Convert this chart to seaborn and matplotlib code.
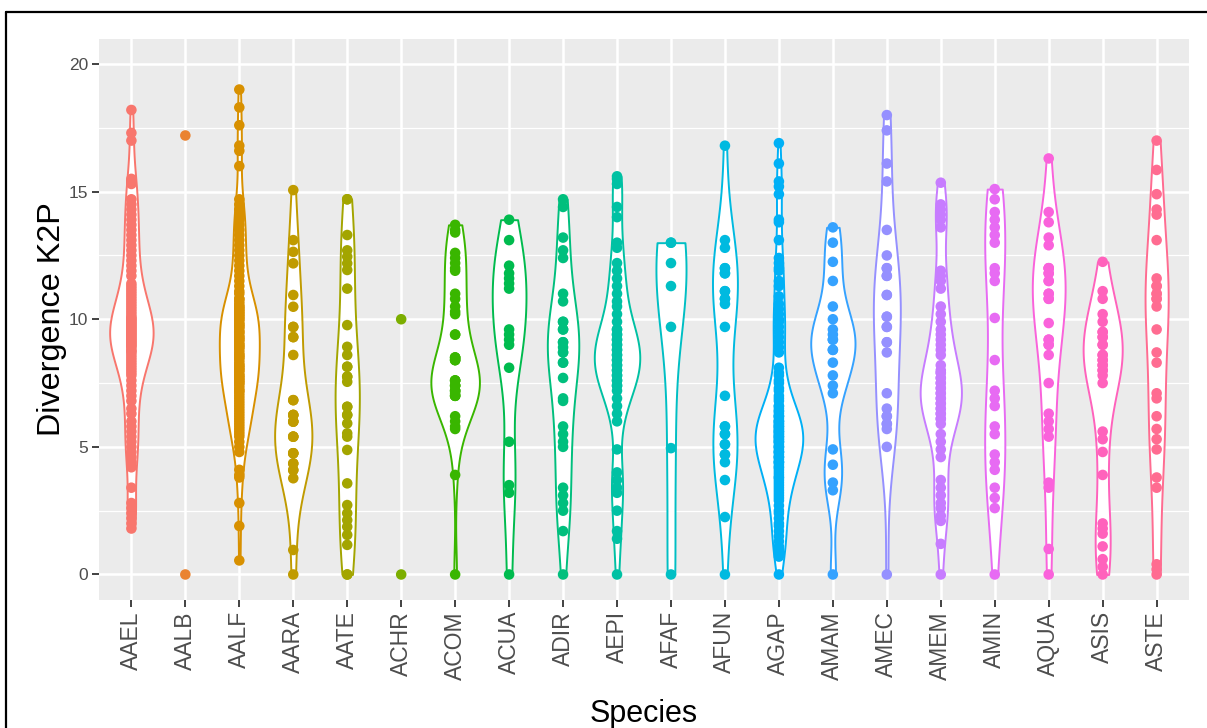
import matplotlib
matplotlib.use("Agg")
import matplotlib.pyplot as plt
from matplotlib.lines import Line2D
from matplotlib.ticker import MultipleLocator
import seaborn as sns
import numpy as np
import pandas as pd

# K2P divergence values per species
species = ["AAEL", "AALB", "AALF", "AARA", "AATE", "ACHR", "ACOM", "ACUA", "ADIR", "AEPI",
           "AFAF", "AFUN", "AGAP", "AMAM", "AMEC", "AMEM", "AMIN", "AQUA", "ASIS", "ASTE"]

aael = [18.2, 17.3, 17.0, 15.5, 15.4, 15.4, 15.3,
        14.7, 14.5, 14.3, 14.1, 13.9, 13.7, 13.5, 13.3, 13.1, 12.9, 12.7, 12.5, 12.3, 12.1,
        11.9, 11.7,
        11.4, 11.3, 11.2, 11.1, 11.0, 10.9, 10.8, 10.7, 10.6, 10.5, 10.4, 10.3, 10.2, 10.1,
        10.05, 10.0, 9.95, 9.9, 9.85, 9.8, 9.75, 9.7, 9.65, 9.6, 9.55, 9.5, 9.45, 9.4, 9.35,
        9.3, 9.25, 9.2, 9.15, 9.1, 9.05, 9.0, 8.95, 8.9, 8.8, 8.75, 8.7, 8.6, 8.5, 8.4, 8.3,
        8.2, 8.1, 8.0, 7.9, 7.8,
        7.6, 7.4, 7.2, 7.0, 6.8, 6.5, 6.3, 6.0, 5.8, 5.6, 5.4, 5.2, 5.0, 4.8, 4.6, 4.4, 4.2,
        3.4, 2.8, 2.6, 2.4, 2.2, 2.0, 1.8]
aalb = [17.2, 0.0]
aalf = [19.0, 18.3, 17.6, 16.8, 16.6, 16.0, 14.7, 14.5, 14.3, 14.1, 13.9, 13.7, 13.5, 13.3,
        13.1, 12.9, 12.7, 12.5, 12.3, 12.1, 11.9, 11.7, 11.5, 11.3, 11.1, 11.0, 10.8, 10.8,
        10.7, 10.6, 10.5, 10.5, 10.4, 10.4, 10.3, 10.3, 10.2, 10.2, 10.1, 10.1, 10.0, 10.0,
        9.9, 9.8, 9.8, 9.7, 9.7, 9.6, 9.5, 9.5, 9.4, 9.3, 9.3, 9.2, 9.2, 9.1, 9.0, 9.0, 8.9,
        8.9, 8.8, 8.7, 8.6, 8.6, 8.5, 8.5, 8.4, 8.3, 8.2, 8.2, 8.1, 8.1, 8.0, 8.0, 7.9, 7.8,
        7.8, 7.7, 7.7, 7.6, 7.6, 7.5, 7.5, 7.4, 7.3, 7.2, 7.2, 7.1, 7.0, 6.9, 6.8, 6.7, 6.6,
        6.5, 6.4, 6.3, 6.2, 6.1, 6.0, 5.9, 5.8, 5.7, 5.6, 5.5, 5.4, 5.2, 5.0, 4.8, 4.1, 3.9,
        3.8, 2.8, 1.9, 0.55]
aara = [15.06, 13.1, 12.64, 12.19, 10.95, 10.49, 9.7, 9.7, 9.3, 9.3, 8.6, 6.83, 6.83, 6.25,
        6.25, 6.25, 5.99, 5.99, 5.99, 5.4, 5.4, 5.4, 4.75, 4.75, 4.75, 4.35, 4.35, 4.09, 4.09,
        3.77, 0.96, 0.0]
aate = [14.7, 14.7, 13.3, 12.7, 12.45, 12.19, 11.93, 11.2, 9.77, 8.92, 8.6, 8.14, 8.14, 7.75,
        7.75, 7.55, 6.57, 6.57, 6.25, 6.25, 5.92, 5.53, 5.4, 4.88, 3.57, 2.72, 2.4, 2.13, 1.87,
        1.55, 1.16, 0.0, 0.0]
achr = [10.0, 0.0]
acom = [13.7, 13.5, 13.4, 12.6, 12.4, 12.2, 12.0, 11.9, 11.0, 10.8, 10.5, 10.3, 10.2, 9.4,
        9.4, 8.5, 8.5, 8.5, 8.4, 8.4, 8.4, 7.6, 7.6, 7.6, 7.4, 7.4, 7.4, 7.2, 7.2, 7.2,
        7.1, 7.0, 7.0, 7.0, 6.2, 6.0, 5.8, 5.7, 3.9, 0.0]
acua = [13.9, 13.1, 12.1, 11.8, 11.6, 11.4, 11.2, 9.6, 9.4, 9.2, 9.0, 8.1, 5.2, 3.5, 3.2, 0.0]
adir = [14.7, 14.4, 13.2, 12.7, 12.4, 11.0, 10.7, 9.9, 9.9, 9.6, 9.6, 9.1, 9.1, 8.9, 8.7, 8.7,
        8.3, 8.3, 7.7, 6.9, 6.8, 5.8, 5.5, 5.2, 5.0, 3.4, 3.1, 2.8, 2.5, 1.7, 0.0]
aepi = [15.6, 15.5, 15.3, 14.4, 14.0, 13.0, 12.8, 12.2, 11.9, 11.6, 11.3, 11.0, 10.7, 10.5,
        10.2, 9.9, 9.6, 9.6, 9.4, 9.4, 9.2, 9.2, 9.0, 9.0, 8.8, 8.8, 8.6, 8.6, 8.4, 8.4, 8.2,
        8.2, 8.0, 8.0, 7.8, 7.8, 7.6, 7.6, 7.4, 7.4, 7.2, 6.9, 6.6, 6.3, 6.0, 4.9, 4.0, 3.7,
        3.4, 3.2, 2.5, 1.7, 1.4, 0.0]
afaf = [13.0, 13.0, 12.2, 11.3, 9.7, 4.95, 0.0]
afun = [16.8, 13.1, 12.8, 12.0, 12.0, 11.8, 11.8, 11.1, 11.1, 10.8, 10.8, 10.6, 9.7, 7.0, 5.8,
        5.8, 5.5, 5.5, 5.1, 5.1, 4.7, 4.7, 4.4, 3.7, 2.25, 0.0]
agap = [16.9, 16.1, 15.4, 15.2, 14.9, 13.9, 13.8, 13.1, 12.4, 12.2, 12.0, 11.9, 11.5, 11.3,
        10.9, 10.6, 10.4, 10.2, 10.0, 9.9, 9.7, 9.5, 9.3, 9.1, 8.9, 8.7, 8.1, 7.9, 7.8, 7.6,
        7.5, 7.3, 7.2, 7.0, 6.9, 6.8, 6.6, 6.6, 6.5, 6.4, 6.4, 6.3, 6.2, 6.2, 6.2, 6.1, 6.0,
        6.0, 6.0, 5.9, 5.9, 5.8, 5.8, 5.8, 5.7, 5.7, 5.6, 5.6, 5.6, 5.5, 5.5, 5.4, 5.4, 5.4,
        5.3, 5.3, 5.2, 5.2, 5.2, 5.1, 5.0, 5.0, 5.0, 4.9, 4.8, 4.8, 4.8, 4.7, 4.6, 4.6, 4.6,
        4.5, 4.4, 4.4, 4.4, 4.3, 4.2, 4.2, 4.1, 4.0, 3.9, 3.8, 3.8, 3.7, 3.6, 3.5, 3.4, 3.3,
        3.2, 3.1, 3.0, 2.9, 2.7, 2.5, 2.4, 2.2, 2.0, 1.9, 1.7, 1.5, 1.3, 1.1, 1.0, 0.9, 0.8,
        0.7, 0.0]
amam = [13.6, 13.0, 12.25, 11.5, 10.5, 10.0, 9.6, 9.4, 9.2, 9.2, 8.8, 8.8, 8.3, 7.8, 7.4, 7.1,
        4.9, 4.3, 3.6, 3.3, 0.0]
amec = [18.0, 17.4, 16.1, 15.4, 13.5, 12.5, 12.0, 12.0, 11.7, 11.7, 10.95, 10.95, 10.1, 10.1,
        9.7, 9.7, 9.1, 9.1, 8.7, 7.1, 6.5, 6.2, 6.2, 5.9, 5.9, 5.7, 5.0, 0.0]
amem = [15.35, 14.5, 14.3, 14.1, 13.9, 13.6, 11.9, 11.7, 11.5, 11.2, 10.5, 10.2, 9.9, 9.6,
        9.4, 9.2, 9.0, 8.8, 8.6, 8.2, 8.0, 7.9, 7.9, 7.7, 7.7, 7.5, 7.5, 7.3, 7.3, 7.1, 7.1,
        6.9, 6.9, 6.7, 6.7, 6.5, 6.5, 6.3, 6.3, 6.1, 6.1, 5.9, 5.5, 5.2, 4.9, 4.6, 3.7, 3.4,
        3.1, 2.8, 2.6, 2.3, 2.1, 1.2, 0.0]
amin = [15.1, 14.7, 14.2, 13.9, 13.6, 13.3, 13.0, 12.0, 11.8, 11.5, 10.05, 8.4, 7.2, 6.9, 6.6,
        5.8, 5.5, 4.7, 4.4, 4.1, 3.4, 3.0, 2.6, 0.0]
aqua = [16.3, 14.2, 13.8, 13.2, 12.9, 12.0, 12.0, 12.0, 11.8, 11.8, 11.5, 11.5, 11.0, 11.0,
        10.8, 10.8, 9.85, 9.2, 9.2, 9.0, 9.0, 8.6, 7.5, 6.3, 6.0, 5.7, 5.4, 3.6, 3.4, 1.0, 0.0]
asis = [12.25, 11.1, 10.8, 10.2, 9.9, 9.5, 9.5, 9.3, 9.3, 9.0, 9.0, 8.6, 8.6, 8.4, 8.4, 8.2,
        8.2, 8.0, 8.0, 7.8, 7.5, 5.6, 5.3, 4.8, 3.9, 2.0, 1.8, 1.6, 1.1, 0.6, 0.3, 0.0]
aste = [17.0, 15.85, 14.9, 14.3, 14.1, 13.1, 11.6, 11.3, 11.3, 11.0, 11.0, 10.8, 10.8, 10.5,
        9.6, 8.7, 8.3, 7.1, 6.9, 6.2, 5.7, 5.3, 4.9, 3.8, 3.4, 0.4, 0.2, 0.0]

values = [aael, aalb, aalf, aara, aate, achr, acom, acua, adir, aepi,
          afaf, afun, agap, amam, amec, amem, amin, aqua, asis, aste]

# ggplot2 default hue palette for 20 levels
colors = ["#F8766D", "#EA8331", "#D89000", "#C09B00", "#A3A500", "#7CAE00", "#39B600",
          "#00BB4E", "#00BF7D", "#00C1A3", "#00BFC4", "#00BAE0", "#00B0F6", "#35A2FF",
          "#9590FF", "#C77CFF", "#E76BF3", "#FA62DB", "#FF62BC", "#FF6C91"]
palette = dict(zip(species, colors))

df = pd.DataFrame({
    "Species": [sp for sp, vals in zip(species, values) for _ in vals],
    "Divergence K2P": [v for vals in values for v in vals],
})
# violins only for groups with enough observations
counts = df["Species"].value_counts()
df_violin = df[df["Species"].map(counts) >= 3]


def nrd0(kde):
    """Silverman's rule of thumb (R's bw.nrd0) as a gaussian_kde factor."""
    x = np.asarray(kde.dataset).ravel()
    sd = np.std(x, ddof=1)
    q75, q25 = np.percentile(x, [75, 25])
    lo = min(sd, (q75 - q25) / 1.34)
    if lo <= 0:
        lo = sd if sd > 0 else 1.0
    return 0.9 * lo * len(x) ** -0.2 / sd


sns.set_theme(style="whitegrid")
plt.rcParams["font.family"] = ["Liberation Sans", "DejaVu Sans"]

fig = plt.figure(figsize=(12.07, 7.28), dpi=100)
ax = fig.add_axes([99 / 1207, 1 - 600 / 728, (1189 - 99) / 1207, (600 - 39) / 728])
ax.set_facecolor("#EBEBEB")

n0 = len(ax.collections)
sns.violinplot(data=df_violin, x="Species", y="Divergence K2P", hue="Species",
               order=species, hue_order=[s for s in species if s in set(df_violin["Species"])],
               palette=palette, density_norm="area", common_norm=True, cut=0,
               bw_method=nrd0, gridsize=256, width=0.9, inner=None, saturation=1,
               legend=False, ax=ax, zorder=2)
for coll in ax.collections[n0:]:
    fc = coll.get_facecolor()
    coll.set_edgecolor(fc)
    coll.set_facecolor("white")
    coll.set_linewidth(1.4)

sns.stripplot(data=df, x="Species", y="Divergence K2P", hue="Species", order=species,
              hue_order=species, palette=palette, jitter=False, size=7.6, linewidth=0,
              legend=False, ax=ax, zorder=3)

ax.set_xlim(-0.6, 19.6)
ax.set_ylim(-1.0, 20.98)
ax.yaxis.set_major_locator(MultipleLocator(5))
ax.yaxis.set_minor_locator(MultipleLocator(2.5))
ax.grid(True, which="major", color="white", linewidth=1.8, zorder=0)
ax.grid(True, which="minor", axis="y", color="white", linewidth=0.9, zorder=0)
ax.set_axisbelow(True)
for s in ax.spines.values():
    s.set_visible(False)

ax.tick_params(axis="both", which="major", length=5, width=1.3, color="#333333",
               labelcolor="#4D4D4D", left=True, bottom=True, pad=3)
ax.tick_params(axis="y", which="minor", length=0)
ax.tick_params(axis="y", labelsize=12.5)
ax.tick_params(axis="x", labelsize=16.5, labelrotation=90)
ax.set_xlabel("Species", fontsize=22, color="black", labelpad=14)
ax.set_ylabel("Divergence K2P", fontsize=23.3, color="black", labelpad=1)

# outer frame lines
fig.add_artist(Line2D([6 / 1207, 1.0], [1 - 12 / 728, 1 - 12 / 728], color="black", linewidth=1.6,
                      transform=fig.transFigure))
fig.add_artist(Line2D([6 / 1207, 6 / 1207], [0.0, 1 - 12 / 728], color="black", linewidth=1.6,
                      transform=fig.transFigure))

fig.savefig("out.png", dpi=100)
